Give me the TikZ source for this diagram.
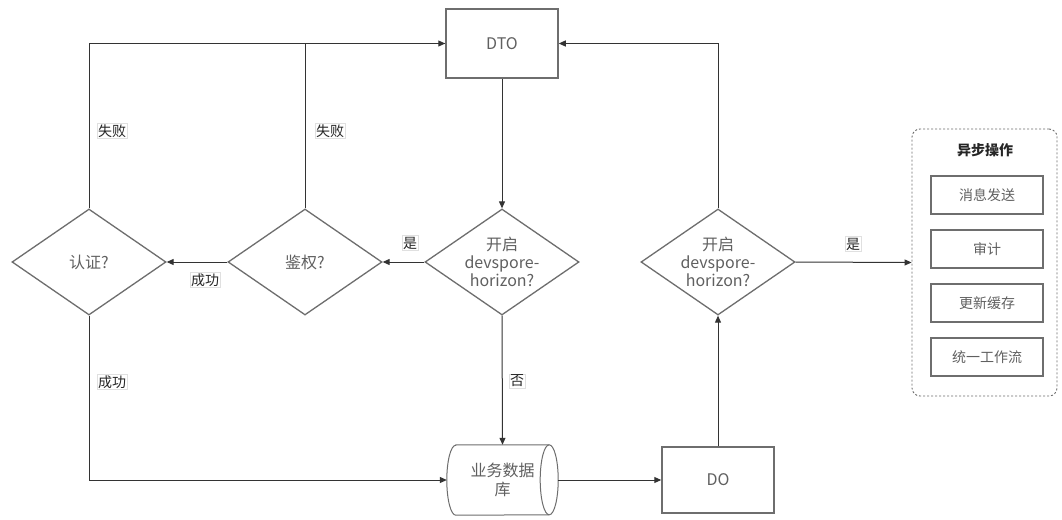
\documentclass[tikz,border=0pt]{standalone}
\usepackage{fontspec}
\setmainfont{Noto Sans CJK SC}
\usetikzlibrary{shapes.geometric,arrows.meta}
\definecolor{bord}{HTML}{6E6E6E}
\definecolor{txt}{HTML}{606060}
\definecolor{line}{HTML}{333333}
\tikzset{
  boxnode/.style={draw=bord,line width=1.5pt,fill=white,text=txt,font=\fontsize{16}{18}\selectfont,align=center,inner sep=0pt},
  decnode/.style={diamond,draw=bord,line width=1.3pt,fill=white,text=txt,font=\fontsize{16}{18}\selectfont,align=center,inner sep=0pt,aspect=1.45,minimum width=154pt,minimum height=106pt},
  dbnode/.style={text=txt,font=\fontsize{16}{19}\selectfont,align=center,inner sep=0pt,minimum width=111pt,minimum height=70pt},
  dbline/.style={draw=bord,line width=1pt},
  smallbox/.style={draw=bord,line width=1.3pt,fill=white,text=txt,font=\fontsize{14}{16}\selectfont,minimum width=112pt,minimum height=38pt,inner sep=0pt},
  lbl/.style={fill=white,draw=black!12,line width=0.4pt,text=black!85,font=\fontsize{14}{16}\selectfont,inner sep=1.2pt},
  conn/.style={draw=line,line width=1pt,-{Triangle[length=7pt,width=6pt]}},
  plain/.style={draw=line,line width=1pt},
}
\begin{document}
\begin{tikzpicture}[x=1pt,y=-1pt]
\useasboundingbox[fill=white] (0,0) rectangle (1062,519);
% nodes
\node[boxnode,minimum width=112pt,minimum height=69pt] (dto) at (502,43.5) {DTO};
\node[decnode] (kq1) at (502,262) {开启\\devspore-\\horizon?};
\node[decnode] (jq) at (305,262) {鉴权?};
\node[decnode] (rz) at (89,262) {认证?};
\node[decnode] (kq2) at (718,262) {开启\\devspore-\\horizon?};
\node[dbnode] (db) at (502.5,480) {业务数据\\库};
\draw[dbline] ([xshift=9pt]db.north west) -- ([xshift=-9pt]db.north east)
   arc[start angle=90,end angle=-90,x radius=9pt,y radius=35pt]
   -- ([xshift=9pt]db.south west)
   arc[start angle=270,end angle=90,x radius=9pt,y radius=35pt] -- cycle;
\draw[dbline] ([xshift=-9pt]db.north east) arc[start angle=90,end angle=270,x radius=9pt,y radius=35pt];
\node[boxnode,minimum width=112pt,minimum height=66pt] (do) at (718,480) {DO};
% async group
\node[draw=bord,line width=0.9pt,dash pattern=on 2pt off 2pt,rounded corners=8pt,minimum width=145pt,minimum height=267pt,inner sep=0pt] (async) at (984.5,262.5) {};
\node[text=black!85,font=\fontsize{14}{16}\selectfont\bfseries] (atitle) at (985,150) {异步操作};
\node[smallbox] (a1) at (987,195) {消息发送};
\node[smallbox] (a2) at (987,249) {审计};
\node[smallbox] (a3) at (987,303) {更新缓存};
\node[smallbox] (a4) at (987,357) {统一工作流};
% connectors
\draw[conn] (dto.south) -- (kq1.north);
\draw[conn] (kq1.west) -- (jq.east);
\draw[conn] (kq1.south) -- (db.north);
\draw[conn] (jq.west) -- (rz.east);
\draw[plain] (jq.north) |- (dto.west);
\draw[conn] (rz.north) |- (dto.west);
\draw[conn] (rz.south) |- (db.west);
\draw[conn] (db.east) -- (do.west);
\draw[conn] (do.north) -- (kq2.south);
\draw[conn] (kq2.north) |- (dto.east);
\draw[conn] (kq2.east) -- (async.west);
% labels
\node[lbl] (l1) at (410,243) {是};
\node[lbl] (l2) at (205,280) {成功};
\node[lbl] (l3) at (112,131) {失败};
\node[lbl] (l4) at (330,131) {失败};
\node[lbl] (l5) at (112,382) {成功};
\node[lbl] (l6) at (517,381) {否};
\node[lbl] (l7) at (853,244) {是};
\end{tikzpicture}
\end{document}
